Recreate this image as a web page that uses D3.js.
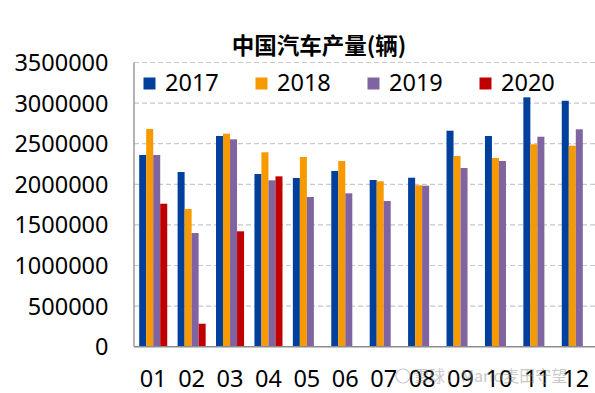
<!DOCTYPE html>
<html>
<head>
<meta charset="utf-8">
<script src="https://cdn.jsdelivr.net/npm/d3@7"></script>
<style>
  body { margin: 0; background: #fff; }
  svg { display: block; font-family: "Noto Sans", "Noto Sans CJK SC", sans-serif; }
</style>
</head>
<body>
<svg id="chart" width="595" height="393"></svg>
<script>
// data
var months = ["01","02","03","04","05","06","07","08","09","10","11","12"];
var years = ["2017","2018","2019","2020"];
var v2017 = [2361000,2151000,2595000,2127000,2078000,2164000,2053000,2081000,2660000,2595000,3071000,3029000];
var v2018 = [2681000,1696000,2623000,2394000,2336000,2287000,2037000,1988000,2348000,2324000,2493000,2475000];
var v2019 = [2361000,1400000,2554000,2049000,1844000,1889000,1794000,1983000,2201000,2287000,2586000,2677000];
var v2020 = [1761000,283000,1421000,2098000];
var yTicks = [0,500000,1000000,1500000,2000000,2500000,3000000,3500000];
var colors = ["#00409C","#F79A00","#8064A2","#C00000"];

var series = [v2017, v2018, v2019, v2020];

var svg = d3.select("#chart");
var plotL = 134, plotR = 595, plotT = 62.5, plotB = 346.7;

var x = d3.scaleBand().domain(months).range([plotL, plotR])
    .paddingInner(0.27).paddingOuter(0.135);
var x1 = d3.scaleBand().domain(years).range([0, x.bandwidth()]);
var y = d3.scaleLinear().domain([0, 3500000]).range([plotB, plotT]);

// gridlines
svg.append("g").selectAll("line")
    .data(yTicks.slice(1))
    .enter().append("line")
    .attr("x1", plotL).attr("x2", plotR)
    .attr("y1", function(d) { return y(d); })
    .attr("y2", function(d) { return y(d); })
    .attr("stroke", "#c8c8c8")
    .attr("stroke-width", 1.2)
    .attr("stroke-dasharray", "5,3");

// bars
var rows = [];
months.forEach(function(m, i) {
  series.forEach(function(s, j) {
    if (s[i] != null) rows.push({m: m, year: years[j], v: s[i], c: colors[j]});
  });
});
svg.append("g").selectAll("rect")
    .data(rows)
    .enter().append("rect")
    .attr("x", function(d) { return x(d.m) + x1(d.year); })
    .attr("width", x1.bandwidth())
    .attr("y", function(d) { return y(d.v); })
    .attr("height", function(d) { return plotB - y(d.v); })
    .attr("fill", function(d) { return d.c; });

// axes lines
svg.append("line").attr("x1", plotL).attr("x2", plotL).attr("y1", plotT).attr("y2", plotB)
    .attr("stroke", "#8c8c8c").attr("stroke-width", 1.3);
svg.append("line").attr("x1", plotL).attr("x2", plotR).attr("y1", plotB).attr("y2", plotB)
    .attr("stroke", "#8c8c8c").attr("stroke-width", 1.5);

// y tick labels
svg.append("g").selectAll("text")
    .data(yTicks)
    .enter().append("text")
    .attr("x", 108.5)
    .attr("y", function(d) { return y(d); })
    .attr("dy", "0.36em")
    .attr("text-anchor", "end")
    .attr("font-size", 23.5)
    .attr("fill", "#000")
    .text(function(d) { return d; });

// x labels
svg.append("g").selectAll("text")
    .data(months)
    .enter().append("text")
    .attr("x", function(d) { return x(d) + x.bandwidth() / 2; })
    .attr("y", 387)
    .attr("text-anchor", "middle")
    .attr("font-size", 23.5)
    .attr("fill", "#000")
    .text(function(d) { return d; });

// title
svg.append("text")
    .attr("x", 319).attr("y", 53.5)
    .attr("text-anchor", "middle")
    .attr("font-size", 22.5)
    .attr("font-weight", "bold")
    .attr("font-family", "Noto Sans CJK SC, sans-serif")
    .text("中国汽车产量(辆)");

// legend
var lg = svg.append("g").selectAll("g")
    .data(years)
    .enter().append("g")
    .attr("transform", function(d, i) { return "translate(" + (143.5 + i * 112) + ",0)"; });
lg.append("rect").attr("x", 0).attr("y", 77.5).attr("width", 12).attr("height", 12)
    .attr("fill", function(d, i) { return colors[i]; });
lg.append("text").attr("x", 21.5).attr("y", 91)
    .attr("font-size", 23.5).attr("fill", "#000")
    .text(function(d) { return d; });

// watermark
var wm = svg.append("g").attr("opacity", 0.45);
wm.append("circle").attr("cx", 403).attr("cy", 376).attr("r", 7)
    .attr("fill", "none").attr("stroke", "#888").attr("stroke-width", 1.2);
wm.append("text").attr("x", 413).attr("y", 382)
    .attr("font-size", 16).attr("fill", "#888")
    .attr("font-family", "Noto Sans CJK SC, sans-serif")
    .text("雪球：Mario麦田守望");
</script>
</body>
</html>
